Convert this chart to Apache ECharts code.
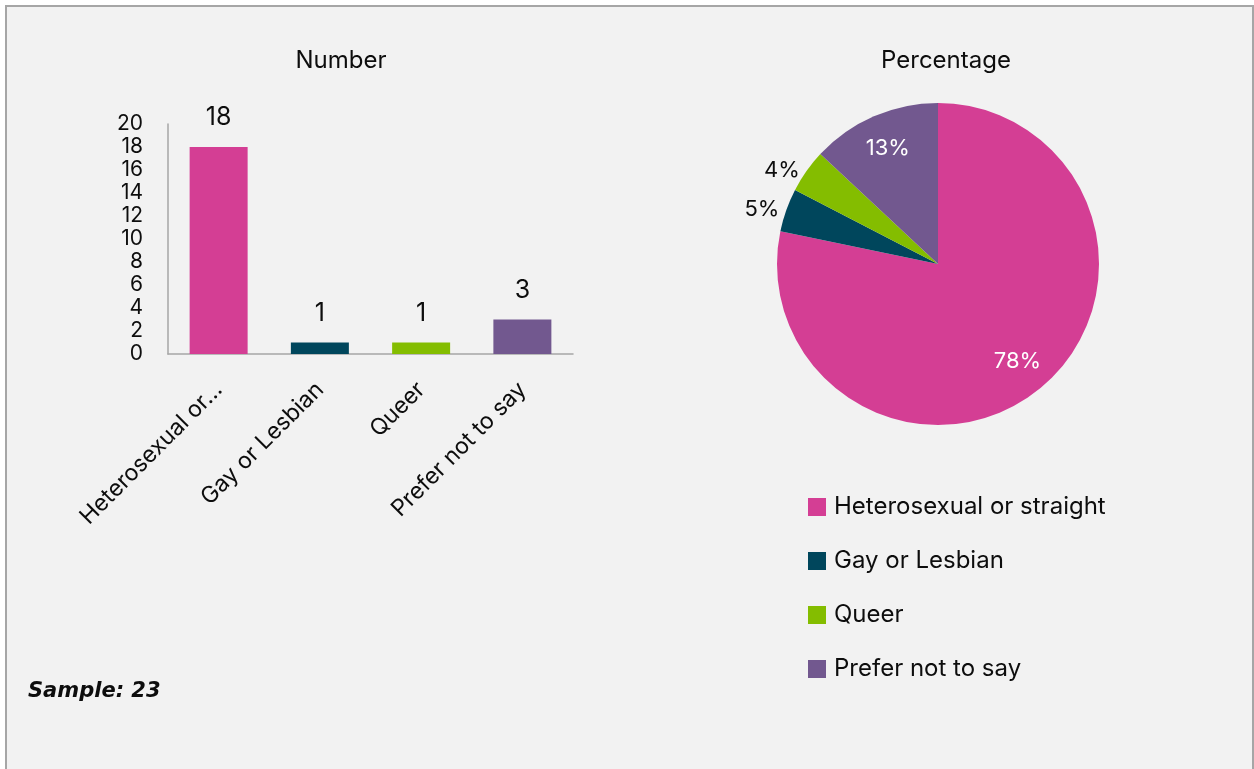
<!DOCTYPE html>
<html>
<head>
<meta charset="utf-8">
<script src="https://cdn.jsdelivr.net/npm/echarts@6/dist/echarts.min.js"></script>
<style>
  html, body { margin: 0; padding: 0; background: #ffffff; }
  #frame {
    position: absolute; left: 5px; top: 5px; width: 1245px; height: 800px;
    background: #f2f2f2; border: 2px solid #a6a6a6;
  }
  #main { position: absolute; left: 0; top: 0; width: 1254px; height: 769px; }
</style>
</head>
<body>
<div id="frame"></div>
<div id="main"></div>
<script>
// categories + counts
const categories = ["Heterosexual or straight", "Gay or Lesbian", "Queer", "Prefer not to say"];
const counts = [18, 1, 1, 3];
const colors = ["#d43e94", "#00465c", "#84bd00", "#72588f"];
const yTicks = { min: 0, max: 20, step: 2 };
// which pie labels sit inside the slice (white) vs outside (black)
const insideLabel = [true, false, false, true];
const sampleText = "Sample: 23";

const FONT = "Inter, 'Noto Sans', sans-serif";

var myChart = echarts.init(document.getElementById("main"), null, { renderer: "canvas" });

const barData = counts.map(function (v, i) {
  return { value: v, itemStyle: { color: colors[i] } };
});

// main pie: slices + outside labels
const pieData = counts.map(function (v, i) {
  return {
    name: categories[i],
    value: v,
    itemStyle: { color: colors[i] },
    label: { show: !insideLabel[i] }
  };
});

// transparent twin pie, only used to place the inside labels further out
const pieLabelData = counts.map(function (v, i) {
  return {
    name: categories[i],
    value: v,
    itemStyle: { color: "rgba(0,0,0,0)" },
    label: { show: insideLabel[i] }
  };
});

const option = {
  backgroundColor: "transparent",
  animation: false,
  textStyle: { fontFamily: FONT, color: "#0d0d0d" },
  title: [
    {
      text: "Number",
      left: 336, top: 44, textAlign: "center",
      textStyle: { fontFamily: FONT, fontSize: 24, fontWeight: "normal", color: "#0d0d0d" }
    },
    {
      text: "Percentage",
      left: 941, top: 44, textAlign: "center",
      textStyle: { fontFamily: FONT, fontSize: 24, fontWeight: "normal", color: "#0d0d0d" }
    },
    {
      text: sampleText,
      left: 23, top: 676,
      textStyle: { fontFamily: "'DejaVu Sans', sans-serif", fontSize: 21, fontWeight: "bold", fontStyle: "italic", color: "#0d0d0d" }
    }
  ],
  grid: { left: 168, top: 124, width: 405, height: 230, containLabel: false },
  xAxis: {
    type: "category",
    data: categories,
    axisLine: { lineStyle: { color: "#a6a6a6", width: 1.5 } },
    axisTick: { show: false },
    axisLabel: {
      rotate: 45,
      interval: 0,
      margin: 32,
      fontSize: 23,
      color: "#0d0d0d",
      fontFamily: FONT,
      width: 193,
      overflow: "truncate",
      ellipsis: "..."
    }
  },
  yAxis: {
    type: "value",
    min: yTicks.min,
    max: yTicks.max,
    interval: yTicks.step,
    axisLine: { show: true, lineStyle: { color: "#a6a6a6", width: 1.5 } },
    axisTick: { show: false },
    splitLine: { show: false },
    axisLabel: { fontSize: 21, color: "#0d0d0d", margin: 25, fontFamily: FONT }
  },
  legend: {
    orient: "vertical",
    left: 803,
    top: 490,
    icon: "rect",
    itemWidth: 18,
    itemHeight: 18,
    itemGap: 30,
    data: categories,
    textStyle: { fontSize: 24, lineHeight: 24, color: "#0d0d0d", fontFamily: FONT, padding: [0, 0, 0, 3] }
  },
  series: [
    {
      name: "Number",
      type: "bar",
      data: barData,
      barWidth: 58,
      label: {
        show: true,
        position: "top",
        distance: 17,
        fontSize: 25,
        color: "#0d0d0d",
        fontFamily: FONT
      }
    },
    {
      name: "Percentage",
      type: "pie",
      center: [938, 264],
      radius: [0, 161],
      startAngle: 90,
      clockwise: true,
      percentPrecision: 0,
      avoidLabelOverlap: false,
      data: pieData,
      label: {
        position: "outside",
        formatter: "{d}%",
        fontSize: 22,
        color: "#0d0d0d",
        fontFamily: FONT
      },
      labelLine: { show: false, length: 2, length2: 0 },
      emphasis: { disabled: true }
    },
    {
      name: "PercentageLabels",
      type: "pie",
      center: [938, 264],
      radius: [0, 246],
      startAngle: 90,
      clockwise: true,
      percentPrecision: 0,
      silent: true,
      z: 3,
      data: pieLabelData,
      label: {
        position: "inside",
        formatter: "{d}%",
        fontSize: 22,
        color: "#ffffff",
        fontFamily: FONT
      },
      labelLine: { show: false },
      emphasis: { disabled: true }
    }
  ]
};

myChart.setOption(option);
</script>
</body>
</html>
